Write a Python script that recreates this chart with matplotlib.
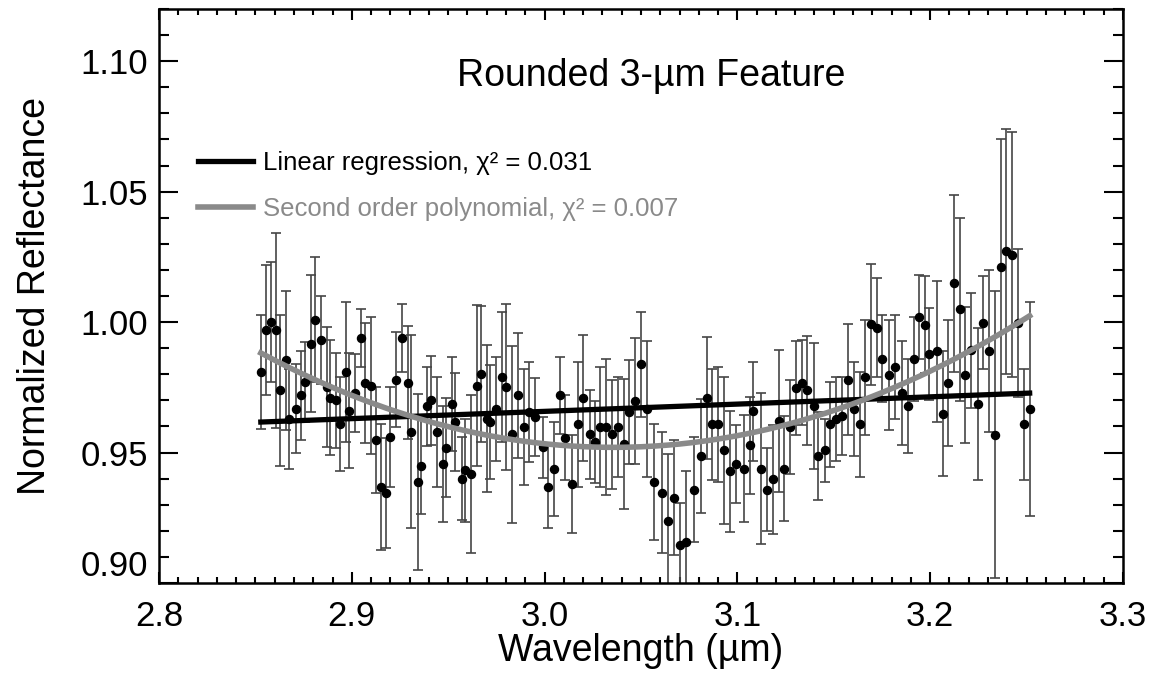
import numpy as np
import matplotlib
matplotlib.use("Agg")
import matplotlib.pyplot as plt
from matplotlib.ticker import MultipleLocator
from matplotlib.lines import Line2D

plt.rcParams['font.family'] = ['Liberation Sans', 'DejaVu Sans']

# wavelength (um), normalized reflectance and 1-sigma errors
wave = [
    2.8528, 2.8557, 2.8580, 2.8609, 2.8627, 2.8658, 2.8675, 2.8710, 2.8739, 2.8758,
    2.8788, 2.8808, 2.8840, 2.8869, 2.8886, 2.8917, 2.8938, 2.8969, 2.8987, 2.9018,
    2.9049, 2.9070, 2.9099, 2.9128, 2.9149, 2.9179, 2.9199, 2.9229, 2.9260, 2.9289,
    2.9308, 2.9341, 2.9359, 2.9390, 2.9411, 2.9440, 2.9471, 2.9489, 2.9520, 2.9537,
    2.9570, 2.9589, 2.9620, 2.9650, 2.9670, 2.9699, 2.9719, 2.9748, 2.9779, 2.9800,
    2.9829, 2.9860, 2.9892, 2.9921, 2.9949, 2.9990, 3.0020, 3.0051, 3.0082, 3.0108,
    3.0141, 3.0172, 3.0201, 3.0233, 3.0260, 3.0290, 3.0319, 3.0350, 3.0380, 3.0411,
    3.0440, 3.0471, 3.0501, 3.0530, 3.0570, 3.0610, 3.0641, 3.0672, 3.0701, 3.0731,
    3.0773, 3.0811, 3.0842, 3.0870, 3.0901, 3.0932, 3.0963, 3.0992, 3.1032, 3.1063,
    3.1081, 3.1122, 3.1153, 3.1184, 3.1214, 3.1241, 3.1275, 3.1302, 3.1333, 3.1363,
    3.1396, 3.1418, 3.1453, 3.1482, 3.1513, 3.1543, 3.1574, 3.1603, 3.1634, 3.1664,
    3.1693, 3.1724, 3.1752, 3.1784, 3.1815, 3.1854, 3.1884, 3.1915, 3.1944, 3.1974,
    3.1993, 3.2033, 3.2064, 3.2093, 3.2124, 3.2154, 3.2183, 3.2214, 3.2246, 3.2275,
    3.2304, 3.2335, 3.2365, 3.2394, 3.2425, 3.2456, 3.2486, 3.2516,
]
refl = [
    0.9809, 0.9968, 1.0000, 0.9968, 0.9738, 0.9853, 0.9630, 0.9668, 0.9719, 0.9770,
    0.9917, 1.0009, 0.9930, 0.9751, 0.9710, 0.9700, 0.9611, 0.9809, 0.9660, 0.9729,
    0.9939, 0.9768, 0.9757, 0.9549, 0.9368, 0.9346, 0.9559, 0.9780, 0.9939, 0.9768,
    0.9579, 0.9387, 0.9448, 0.9678, 0.9700, 0.9579, 0.9457, 0.9519, 0.9687, 0.9617,
    0.9400, 0.9432, 0.9419, 0.9757, 0.9800, 0.9630, 0.9617, 0.9668, 0.9789, 0.9751,
    0.9570, 0.9719, 0.9598, 0.9655, 0.9636, 0.9521, 0.9368, 0.9438, 0.9719, 0.9557,
    0.9378, 0.9608, 0.9709, 0.9570, 0.9540, 0.9598, 0.9598, 0.9570, 0.9598, 0.9534,
    0.9656, 0.9697, 0.9838, 0.9668, 0.9387, 0.9346, 0.9236, 0.9327, 0.9147, 0.9157,
    0.9358, 0.9487, 0.9709, 0.9608, 0.9608, 0.9508, 0.9429, 0.9457, 0.9438, 0.9528,
    0.9658, 0.9438, 0.9358, 0.9397, 0.9620, 0.9438, 0.9598, 0.9749, 0.9768, 0.9738,
    0.9678, 0.9487, 0.9508, 0.9608, 0.9630, 0.9640, 0.9779, 0.9668, 0.9608, 0.9789,
    0.9991, 0.9979, 0.9860, 0.9798, 0.9828, 0.9728, 0.9678, 0.9860, 1.0019, 0.9990,
    0.9879, 0.9889, 0.9649, 0.9768, 1.0149, 1.0049, 0.9798, 0.9892, 0.9687, 0.9998,
    0.9889, 0.9569, 1.0211, 1.0271, 1.0259, 0.9997, 0.9608, 0.9668,
]
err = [
    0.0219, 0.0249, 0.0229, 0.0375, 0.0290, 0.0266, 0.0192, 0.0170, 0.0171, 0.0153,
    0.0263, 0.0240, 0.0169, 0.0231, 0.0220, 0.0182, 0.0180, 0.0269, 0.0220, 0.0150,
    0.0110, 0.0230, 0.0262, 0.0204, 0.0243, 0.0211, 0.0192, 0.0181, 0.0129, 0.0217,
    0.0370, 0.0338, 0.0182, 0.0151, 0.0172, 0.0211, 0.0222, 0.0190, 0.0180, 0.0188,
    0.0158, 0.0198, 0.0303, 0.0310, 0.0260, 0.0281, 0.0220, 0.0199, 0.0250, 0.0319,
    0.0340, 0.0241, 0.0222, 0.0192, 0.0151, 0.0117, 0.0156, 0.0181, 0.0149, 0.0163,
    0.0188, 0.0241, 0.0241, 0.0171, 0.0158, 0.0229, 0.0262, 0.0208, 0.0190, 0.0249,
    0.0200, 0.0241, 0.0202, 0.0261, 0.0221, 0.0231, 0.0259, 0.0220, 0.0161, 0.0272,
    0.0200, 0.0220, 0.0232, 0.0213, 0.0220, 0.0282, 0.0232, 0.0150, 0.0206, 0.0185,
    0.0190, 0.0289, 0.0160, 0.0209, 0.0273, 0.0202, 0.0179, 0.0180, 0.0163, 0.0209,
    0.0241, 0.0170, 0.0120, 0.0162, 0.0161, 0.0150, 0.0213, 0.0180, 0.0200, 0.0220,
    0.0232, 0.0190, 0.0168, 0.0210, 0.0201, 0.0200, 0.0181, 0.0161, 0.0160, 0.0186,
    0.0176, 0.0270, 0.0240, 0.0241, 0.0340, 0.0351, 0.0260, 0.0220, 0.0291, 0.0179,
    0.0310, 0.0551, 0.0489, 0.0470, 0.0471, 0.0284, 0.0213, 0.0410,
]

# fitted models
lin_coef = [0.02783, 0.8823]          # slope, intercept
quad_par = [1.0815, 3.0357, 0.952]    # curvature, centre, minimum

labels = ['Linear regression, χ² = 0.031', 'Second order polynomial, χ² = 0.007']
title = 'Rounded 3-µm Feature'

wave = np.array(wave)
refl = np.array(refl)
err = np.array(err)

lin_fit = np.polyval(lin_coef, wave)
quad_fit = quad_par[0] * (wave - quad_par[1])**2 + quad_par[2]

fig = plt.figure(figsize=(11.59, 6.86), dpi=100)
ax = fig.add_axes([0.1372, 0.1501, 0.8317, 0.8368])

ax.errorbar(wave, refl, yerr=err, fmt='o', color='black', ms=5.8,
            ecolor='#454545', elinewidth=1.2, capsize=3.4, capthick=1.2, zorder=2)
ax.plot(wave, lin_fit, color='black', lw=3.8, zorder=3)
ax.plot(wave, quad_fit, color='#8a8a8a', lw=4.0, zorder=3)

ax.set_xlim(2.8, 3.3)
ax.set_ylim(0.90, 1.12)
ax.xaxis.set_minor_locator(MultipleLocator(0.01))
ax.yaxis.set_minor_locator(MultipleLocator(0.01))
ax.set_xticks([2.8, 2.9, 3.0, 3.1, 3.2, 3.3])
ax.set_xticklabels(['2.8', '2.9', '3.0', '3.1', '3.2', '3.3'])
ax.set_yticks([0.90, 0.95, 1.00, 1.05, 1.10])
ax.set_yticklabels(['0.90', '0.95', '1.00', '1.05', '1.10'])
# the lowest label sits just above the bottom axis, as in the original
ax.get_yticklabels()[0].set_verticalalignment('bottom')

ax.tick_params(axis='both', which='both', direction='in', top=True, right=True,
               width=1.5, labelsize=25)
ax.tick_params(axis='x', which='major', length=8, pad=12)
ax.tick_params(axis='x', which='minor', length=4)
ax.tick_params(axis='y', which='major', length=14, pad=8)
ax.tick_params(axis='y', which='minor', length=7)
for s in ax.spines.values():
    s.set_linewidth(1.8)

ax.set_xlabel('Wavelength (µm)', fontsize=27, labelpad=0)
ax.set_ylabel('Normalized Reflectance', fontsize=27, labelpad=20)

ax.text(0.511, 0.883, title, transform=ax.transAxes, ha='center', va='center',
        fontsize=27)

handles = [Line2D([], [], color='black', lw=3.8),
           Line2D([], [], color='#8a8a8a', lw=4.0)]
ax.legend(handles, labels, loc='upper left', bbox_to_anchor=(0.040, 0.752),
          frameon=False, fontsize=18.5, handlelength=2.14, handletextpad=0.39,
          labelspacing=0.84, borderpad=0, borderaxespad=0, labelcolor='linecolor')

fig.savefig('out.png', dpi=100)
